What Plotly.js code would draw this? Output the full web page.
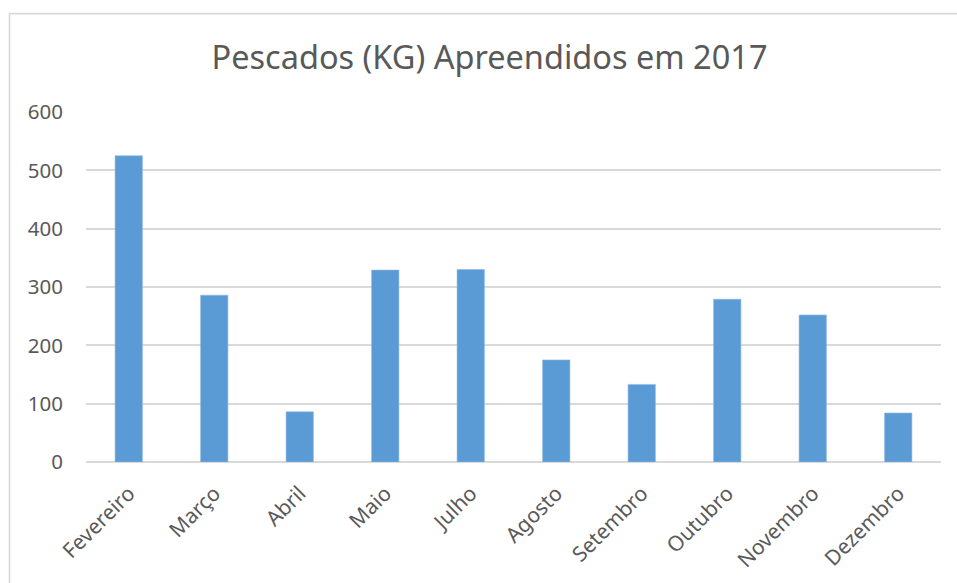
<!DOCTYPE html>
<html>
<head>
<meta charset="utf-8">
<script src="https://cdn.plot.ly/plotly-3.0.1.min.js"></script>
<style>
  html, body { margin: 0; padding: 0; background: #fff; }
  #chart { width: 957px; height: 583px; }
</style>
</head>
<body>
<div id="chart"></div>
<script>
const months = ["Fevereiro", "Março", "Abril", "Maio", "Julho", "Agosto", "Setembro", "Outubro", "Novembro", "Dezembro"];
const kg = [525, 286, 86, 329, 330, 175, 133, 279, 252, 84];
const yTicks = [0, 100, 200, 300, 400, 500, 600];
const chartTitle = "Pescados (KG) Apreendidos em 2017";

const gray = "#595959";
const gridColor = "#d9d9d9";
const fontFam = "Noto Sans, Open Sans, sans-serif";

const trace = {
  type: "bar",
  x: months,
  y: kg,
  marker: { color: "#5b9bd5", line: { color: "#8fbbe3", width: 0.6 } },
  hoverinfo: "x+y"
};

const layout = {
  width: 957,
  height: 583,
  margin: { l: 86, r: 16, t: 112, b: 121 },
  paper_bgcolor: "#ffffff",
  plot_bgcolor: "#ffffff",
  bargap: 0.68,
  showlegend: false,
  title: {
    text: chartTitle,
    font: { family: fontFam, size: 32.5, color: gray },
    x: 0.5115, xref: "container", xanchor: "center",
    y: 0.902, yref: "container", yanchor: "middle"
  },
  xaxis: {
    type: "category",
    tickangle: -45,
    tickfont: { family: fontFam, size: 21, color: gray },
    showgrid: false,
    showline: false,
    ticks: "",
    ticklabelstandoff: 14,
    zeroline: false,
    fixedrange: true
  },
  yaxis: {
    range: [0, 600],
    tickvals: yTicks,
    ticktext: yTicks.map(String),
    tickfont: { family: fontFam, size: 20.5, color: gray },
    showgrid: true,
    gridcolor: gridColor,
    gridwidth: 1.7,
    zeroline: true,
    zerolinecolor: gridColor,
    zerolinewidth: 1.8,
    showline: false,
    ticks: "",
    ticklabelstandoff: 22,
    fixedrange: true
  },
  shapes: [
    {
      type: "path", xref: "paper", yref: "paper",
      path: "M -0.0895,-0.4 L -0.0895,1.281 L 1.05,1.281",
      line: { color: gridColor, width: 1.6 },
      layer: "below"
    }
  ]
};

Plotly.newPlot("chart", [trace], layout, { displayModeBar: false, staticPlot: true });
</script>
</body>
</html>
